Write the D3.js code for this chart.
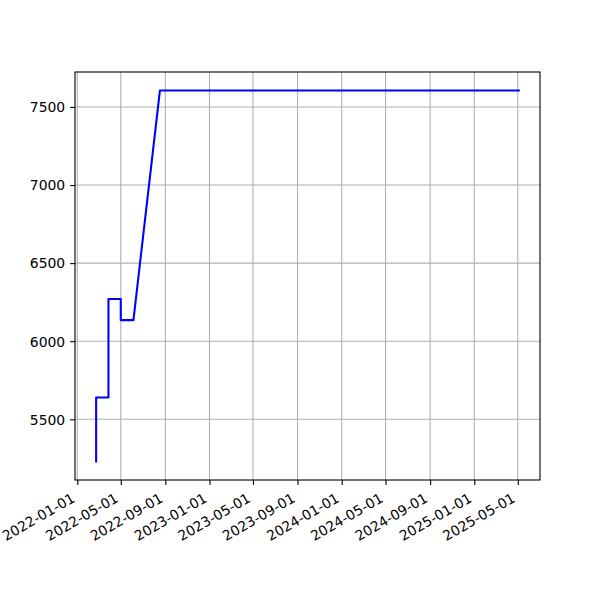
<!DOCTYPE html>
<html>
<head>
<meta charset="utf-8">
<script src="https://cdn.jsdelivr.net/npm/d3@7"></script>
<style>
  body { margin: 0; background: #fff; }
  text { font-family: "DejaVu Sans", sans-serif; }
</style>
</head>
<body>
<svg id="chart" width="600" height="600"></svg>
<script>
const dates = ["2022-02-22", "2022-02-22", "2022-03-28", "2022-03-28", "2022-05-01", "2022-05-01", "2022-06-05", "2022-08-17", "2025-05-04"];
const values = [5230, 5640, 5640, 6270, 6270, 6135, 6135, 7605, 7605];
const xTickLabels = ["2022-01-01", "2022-05-01", "2022-09-01", "2023-01-01", "2023-05-01", "2023-09-01", "2024-01-01", "2024-05-01", "2024-09-01", "2025-01-01", "2025-05-01"];
const yTickValues = [5500, 6000, 6500, 7000, 7500];

const parse = d3.utcParse("%Y-%m-%d");
const data = dates.map((d, i) => ({ date: parse(d), value: values[i] }));

const margin = { left: 75, right: 60, top: 72, bottom: 120 };
const W = 600, H = 600;
const iw = W - margin.left - margin.right, ih = H - margin.top - margin.bottom;

const svg = d3.select("#chart");
svg.append("rect").attr("width", W).attr("height", H).attr("fill", "#fff");
const g = svg.append("g").attr("transform", `translate(${margin.left},${margin.top})`);

const xExt = d3.extent(data, d => d.date);
const xSpan = xExt[1] - xExt[0];
const x = d3.scaleUtc()
  .domain([new Date(+xExt[0] - 0.05 * xSpan), new Date(+xExt[1] + 0.05 * xSpan)])
  .range([0, iw]);
const yExt = d3.extent(values);
const ySpan = yExt[1] - yExt[0];
const y = d3.scaleLinear()
  .domain([yExt[0] - 0.05 * ySpan, yExt[1] + 0.05 * ySpan])
  .range([ih, 0]);

const xTicks = xTickLabels.map(parse);

// grid
g.append("g").selectAll("line").data(xTicks).join("line")
  .attr("x1", d => x(d)).attr("x2", d => x(d)).attr("y1", 0).attr("y2", ih)
  .attr("stroke", "#b0b0b0").attr("stroke-width", 1.1);
g.append("g").selectAll("line").data(yTickValues).join("line")
  .attr("x1", 0).attr("x2", iw).attr("y1", d => y(d)).attr("y2", d => y(d))
  .attr("stroke", "#b0b0b0").attr("stroke-width", 1.1);

// line
g.append("path").datum(data)
  .attr("fill", "none").attr("stroke", "#0000ff").attr("stroke-width", 2.08)
  .attr("stroke-linejoin", "round").attr("stroke-linecap", "square")
  .attr("d", d3.line().x(d => x(d.date)).y(d => y(d.value)));

// spines
g.append("rect").attr("x", 0).attr("y", 0).attr("width", iw).attr("height", ih)
  .attr("fill", "none").attr("stroke", "#000").attr("stroke-width", 1.1);

// x axis
const xAxis = d3.axisBottom(x).tickValues(xTicks).tickSize(4.9).tickPadding(0)
  .tickFormat(d3.utcFormat("%Y-%m-%d"));
const xg = g.append("g").attr("transform", `translate(0,${ih})`).call(xAxis);
xg.select(".domain").remove();
xg.selectAll(".tick line").attr("stroke", "#000").attr("stroke-width", 1.1);
xg.selectAll(".tick text")
  .attr("font-size", 13.9).attr("font-family", "DejaVu Sans").attr("fill", "#000")
  .attr("text-anchor", "end").attr("dy", null)
  .attr("transform", "translate(-2,21) rotate(-30)")
  .attr("y", 0).attr("x", 0);

// y axis
const yAxis = d3.axisLeft(y).tickValues(yTickValues).tickSize(4.9).tickPadding(4.9)
  .tickFormat(d3.format("d"));
const yg = g.append("g").call(yAxis);
yg.select(".domain").remove();
yg.selectAll(".tick line").attr("stroke", "#000").attr("stroke-width", 1.1);
yg.selectAll(".tick text")
  .attr("font-size", 13.9).attr("font-family", "DejaVu Sans").attr("fill", "#000")
  .attr("dy", "0.35em");
</script>
</body>
</html>
